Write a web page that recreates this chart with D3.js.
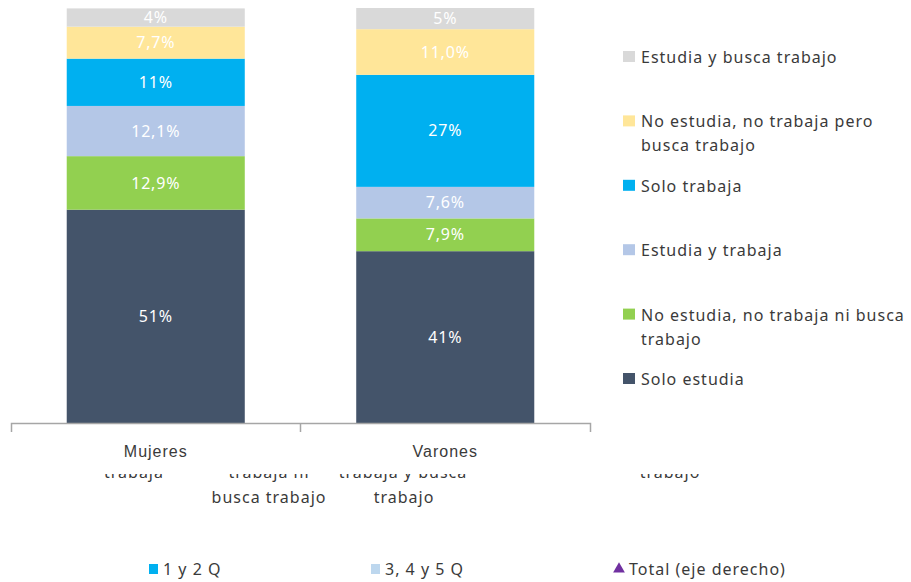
<!DOCTYPE html>
<html>
<head>
<meta charset="utf-8">
<script src="https://cdn.jsdelivr.net/npm/d3@7"></script>
<style>
  body { margin: 0; background: #fff; }
  svg { display: block; font-family: "Noto Sans", "Open Sans", sans-serif; }
  .lbl { fill: #fff; font-size: 16px; text-anchor: middle; letter-spacing: 0.8px; }
  .txt { fill: #3a3a3a; font-size: 16px; letter-spacing: 1px; }
</style>
</head>
<body>
<div id="chart"></div>
<script>
var svgWidth = 911;
var svgHeight = 582;

// data
var categories = ["Mujeres", "Varones"];
var seriesNames = [
  "Solo estudia",
  "No estudia, no trabaja ni busca trabajo",
  "Estudia y trabaja",
  "Solo trabaja",
  "No estudia, no trabaja pero busca trabajo",
  "Estudia y busca trabajo"
];
var seriesColors = ["#44546a", "#92d050", "#b4c7e7", "#00b0f0", "#ffe699", "#d9d9d9"];
var seriesDecimals = [0, 1, 1, 0, 1, 0];
var mujeresValues = [51.4, 12.9, 12.1, 11.4, 7.7, 4.4];
var varonesValues = [41.4, 7.9, 7.6, 27.0, 11.0, 5.1];

// bottom legend from a second chart (partly visible)
var bottomLegend = ["1 y 2 Q", "3, 4 y 5 Q", "Total (eje derecho)"];
var bottomColors = ["#00b0f0", "#bdd7ee", "#7030a0"];

var margin = { top: 8, bottom: 423, left: 11, right: 590 };

var table = categories.map(function (c, i) {
  var row = { cat: c };
  var vals = i === 0 ? mujeresValues : varonesValues;
  seriesNames.forEach(function (s, j) { row[s] = vals[j]; });
  return row;
});

var svg = d3.select("#chart").append("svg")
  .attr("width", svgWidth)
  .attr("height", svgHeight);

var x = d3.scaleBand()
  .domain(categories)
  .range([margin.left, margin.right])
  .paddingInner(0.385)
  .paddingOuter(0.1925);

var y = d3.scaleLinear()
  .domain([0, 100])
  .range([margin.bottom, margin.top]);

var locale = d3.formatLocale({ decimal: ",", thousands: ".", grouping: [3], currency: ["", "€"] });

var stacked = d3.stack().keys(seriesNames)(table);

var layers = svg.append("g").selectAll("g")
  .data(stacked)
  .enter().append("g")
  .attr("fill", function (d, i) { return seriesColors[i]; });

layers.selectAll("rect")
  .data(function (d) { return d; })
  .enter().append("rect")
  .attr("x", function (d) { return x(d.data.cat); })
  .attr("y", function (d) { return y(d[1]); })
  .attr("width", x.bandwidth())
  .attr("height", function (d) { return y(d[0]) - y(d[1]); });

layers.each(function (s, i) {
  var fmt = locale.format("." + seriesDecimals[i] + "f");
  d3.select(this).selectAll("text")
    .data(s)
    .enter().append("text")
    .attr("class", "lbl")
    .attr("x", function (d) { return x(d.data.cat) + x.bandwidth() / 2; })
    .attr("y", function (d) { return (y(d[0]) + y(d[1])) / 2; })
    .attr("dy", "0.35em")
    .text(function (d) { return fmt(d[1] - d[0]) + "%"; });
});

// x axis
var xAxis = svg.append("g")
  .attr("transform", "translate(0," + margin.bottom + ")")
  .call(d3.axisBottom(x).tickSizeInner(0).tickSizeOuter(9).tickPadding(23));

xAxis.select(".domain").attr("stroke", "#a6a6a6").attr("stroke-width", 1.5);
xAxis.selectAll("text")
  .attr("class", "txt")
  .attr("font-family", null)
  .attr("font-size", null);

// middle divider tick
xAxis.append("line")
  .attr("x1", margin.left + x.step()).attr("x2", margin.left + x.step())
  .attr("y1", 0).attr("y2", 9)
  .attr("stroke", "#a6a6a6").attr("stroke-width", 1.5);

// right legend
var legend = svg.append("g");
var legendItems = seriesNames.slice().reverse();
var legendColors = seriesColors.slice().reverse();

legendItems.forEach(function (name, i) {
  var by = 63 + i * 64.4;
  legend.append("rect")
    .attr("x", 623).attr("y", by - 12)
    .attr("width", 12).attr("height", 11)
    .attr("fill", legendColors[i]);
  var t = legend.append("text").attr("class", "txt").attr("x", 641).attr("y", by);
  var words = name.split(" ");
  var line = [];
  var tspan = t.append("tspan").attr("x", 641).attr("y", by);
  words.forEach(function (w) {
    line.push(w);
    tspan.text(line.join(" "));
    if (tspan.node().getComputedTextLength() > 268 && line.length > 1) {
      line.pop();
      tspan.text(line.join(" "));
      line = [w];
      tspan = t.append("tspan").attr("x", 641).attr("dy", 24).text(w);
    }
  });
});

// leftover labels of a chart underneath, cut at the top
svg.append("clipPath").attr("id", "cut")
  .append("rect").attr("x", 0).attr("y", 474).attr("width", svgWidth).attr("height", 40);

var fragments = [
  { t: "trabaja", x: 134, y: 478 },
  { t: "trabaja ni", x: 269, y: 478 },
  { t: "trabaja y busca", x: 403, y: 478 },
  { t: "trabajo", x: 670, y: 478 },
  { t: "busca trabajo", x: 269, y: 503 },
  { t: "trabajo", x: 404, y: 503 }
];

svg.append("g").attr("clip-path", "url(#cut)")
  .selectAll("text")
  .data(fragments)
  .enter().append("text")
  .attr("class", "txt")
  .attr("text-anchor", "middle")
  .attr("x", function (d) { return d.x; })
  .attr("y", function (d) { return d.y; })
  .text(function (d) { return d.t; });

// bottom legend
var bx = [149, 371, 613];
var bl = svg.append("g");
bottomLegend.forEach(function (name, i) {
  if (i < 2) {
    bl.append("rect")
      .attr("x", bx[i]).attr("y", 564)
      .attr("width", 9).attr("height", 10)
      .attr("fill", bottomColors[i]);
  } else {
    bl.append("path")
      .attr("d", d3.symbol(d3.symbolTriangle, 60)())
      .attr("transform", "translate(" + (bx[i] + 6) + ",569)")
      .attr("fill", bottomColors[i]);
  }
  bl.append("text")
    .attr("class", "txt")
    .attr("x", bx[i] + (i < 2 ? 14 : 16))
    .attr("y", 575)
    .text(name);
});
</script>
</body>
</html>
